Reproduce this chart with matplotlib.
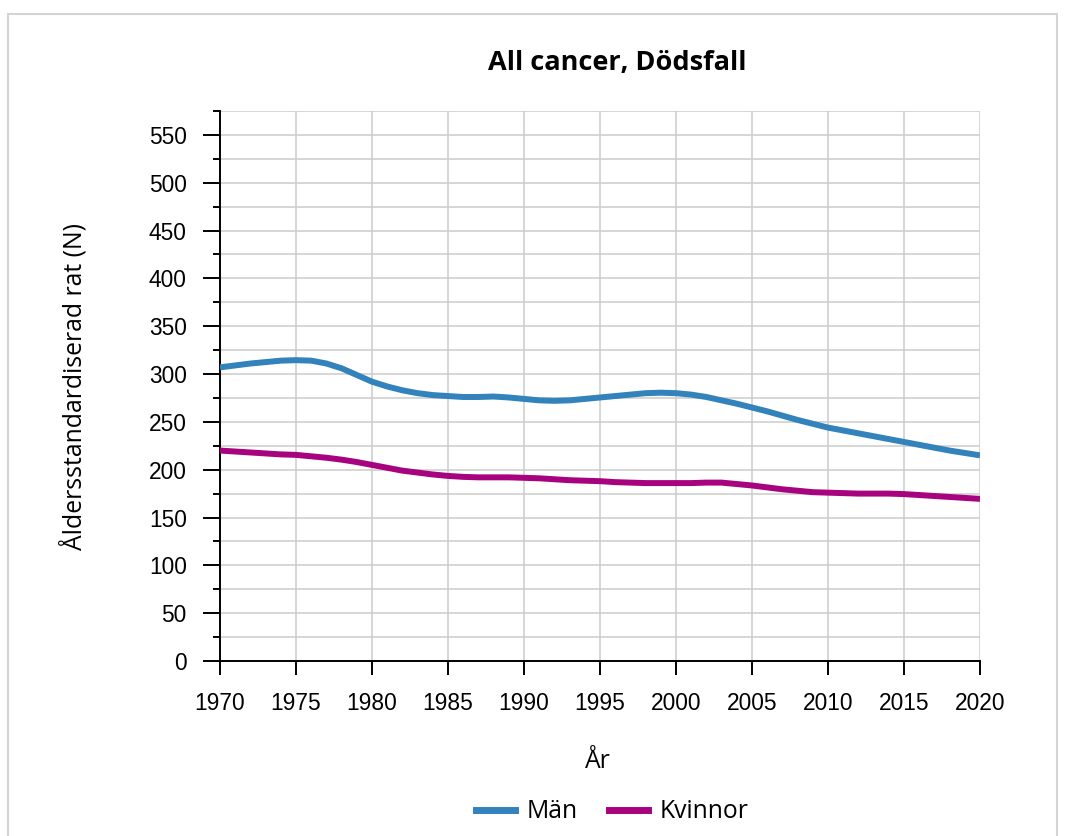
import matplotlib
matplotlib.use("Agg")
import matplotlib.pyplot as plt
from matplotlib.patches import Rectangle
from matplotlib.ticker import MultipleLocator
from matplotlib.lines import Line2D

years = list(range(1970, 2021))
man = [307, 309, 311, 312.5, 314, 314.5, 314, 311, 306, 299,
       292, 287, 283, 280, 278, 277, 276, 276, 276.5, 275.5,
       274, 272.5, 272, 272.5, 274, 275.5, 277, 278.5, 280, 280.5,
       280, 278.5, 276, 272.5, 269, 265, 261, 256.5, 252, 248,
       244, 241, 238, 235, 232, 229, 226, 223, 220, 217.5, 215]
kvinnor = [220, 219, 218, 217, 216, 215.5, 214, 212.5, 210.5, 208,
           205, 202, 199, 197, 195, 193.5, 192.5, 192, 192, 192,
           191.5, 191, 190, 189, 188.5, 188, 187, 186.5, 186, 186,
           186, 186, 186.5, 186.5, 185, 183.5, 181.5, 179.5, 178, 176.5,
           176, 175.5, 175, 175, 175, 174.5, 173.5, 172.5, 171.5, 170.5, 169.5]

title = "All cancer, Dödsfall"
xlabel = "År"
ylabel = "Åldersstandardiserad rat (N)"
labels = ["Män", "Kvinnor"]
colors = ["#3282bc", "#a8037f"]

W, H = 1067, 836
fig = plt.figure(figsize=(W / 100, H / 100), dpi=100)
fig.patches.append(Rectangle((8 / W, -0.05), (1057 - 8) / W, 1.05 - 14 / H,
                             transform=fig.transFigure, fill=False,
                             edgecolor="#d4d4d4", lw=1.5))

ax = fig.add_axes([220 / W, 1 - 661 / H, (980 - 220) / W, (661 - 111) / H])
ax.plot(years, man, color=colors[0], lw=4.3, solid_capstyle="butt", zorder=3)
ax.plot(years, kvinnor, color=colors[1], lw=4.3, solid_capstyle="butt", zorder=3)

ax.set_xlim(1970, 2020)
ax.set_ylim(0, 575)
ax.xaxis.set_major_locator(MultipleLocator(5))
ax.yaxis.set_major_locator(MultipleLocator(50))
ax.yaxis.set_minor_locator(MultipleLocator(25))
ax.grid(True, which="both", color="#cccccc", lw=1.1, zorder=0)
ax.set_axisbelow(True)
for s in ["top", "right"]:
    ax.spines[s].set_visible(False)
for s in ["left", "bottom"]:
    ax.spines[s].set_linewidth(1.4)
    ax.spines[s].set_color("black")
ax.tick_params(axis="y", which="major", length=12, width=1.4, pad=12,
               labelsize=16.4)
ax.tick_params(axis="y", which="minor", length=5, width=1.4)
ax.tick_params(axis="x", which="major", length=10, width=1.4, pad=12,
               labelsize=16.4)
for lbl in ax.get_xticklabels() + ax.get_yticklabels():
    lbl.set_fontfamily("Liberation Sans")

fig.text(617 / W, 1 - 63 / H, title, ha="center", va="center",
         fontsize=19.5, fontweight="bold", family="Open Sans")
fig.text(74 / W, 1 - 387 / H, ylabel, ha="center", va="center",
         rotation=90, fontsize=17.8, family="Open Sans")
fig.text(598 / W, 1 - 762 / H, xlabel, ha="center", va="center",
         fontsize=17.8, family="Open Sans")

handles = [Line2D([], [], color=c, lw=5) for c in colors]
fig.legend(handles, labels, loc="center", bbox_to_anchor=(612 / W, 1 - 812 / H),
           ncol=2, frameon=False, prop={"family": "Open Sans", "size": 17.8},
           handlelength=1.6, handletextpad=0.45, columnspacing=1.25)

fig.savefig("out.png", dpi=100)
